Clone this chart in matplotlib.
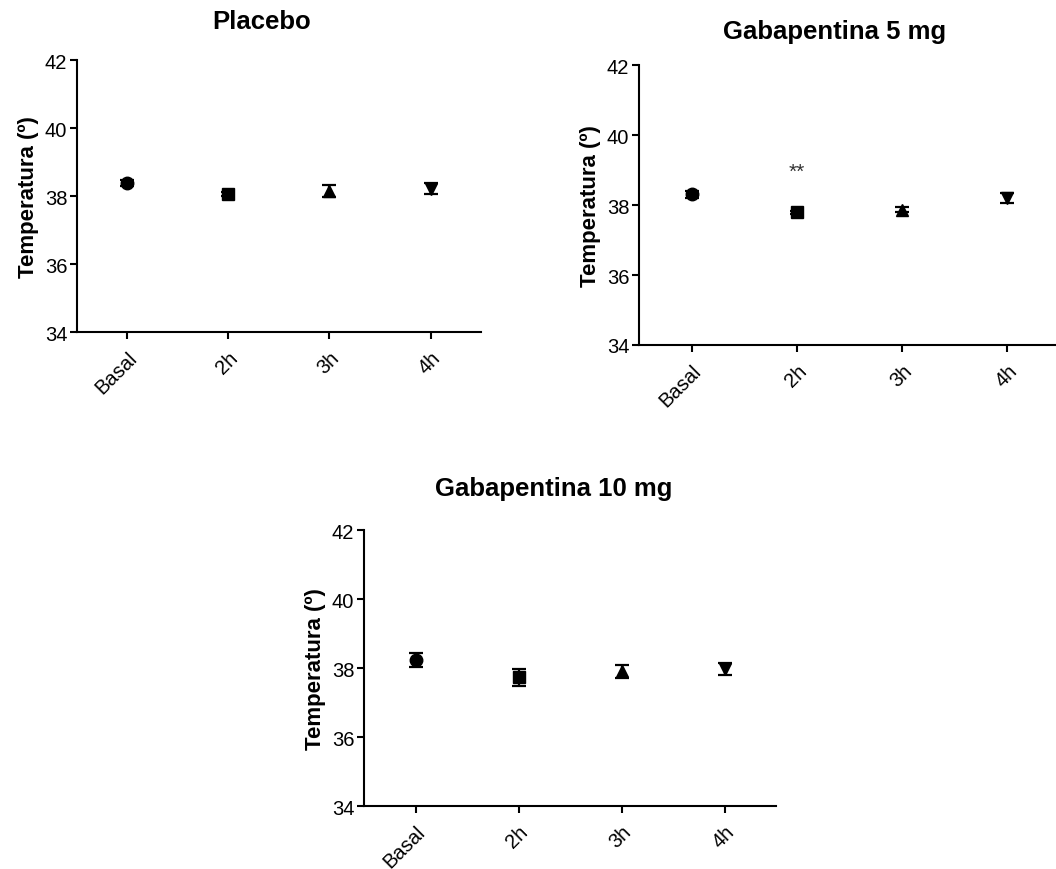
import matplotlib.pyplot as plt

plt.rcParams['font.family'] = ['Liberation Sans', 'DejaVu Sans']

categories = ['Basal', '2h', '3h', '4h']
markers = ['o', 's', '^', 'v']

titles = ['Placebo', 'Gabapentina 5 mg', 'Gabapentina 10 mg']

placebo_mean = [38.38, 38.06, 38.15, 38.22]
placebo_sem = [0.08, 0.05, 0.18, 0.15]

gaba5_mean = [38.31, 37.79, 37.87, 38.19]
gaba5_sem = [0.10, 0.05, 0.07, 0.14]

gaba10_mean = [38.24, 37.73, 37.90, 37.97]
gaba10_sem = [0.21, 0.24, 0.20, 0.18]

sig_label = '**'
sig_pos = (1, 38.95)   # over 2h in the 5 mg panel

yticks = [34, 36, 38, 40, 42]


def panel(fig, rect, means, sems, title, title_xy):
    ax = fig.add_axes(rect)
    for i in range(len(categories)):
        ax.errorbar(i, means[i], yerr=sems[i], fmt=markers[i], color='black',
                    markersize=9, elinewidth=1.6, capsize=5, capthick=1.6)
    ax.set_xlim(-0.5, 3.5)
    ax.set_ylim(34, 42)
    ax.set_yticks(yticks)
    ax.set_xticks(range(len(categories)))
    ax.set_xticklabels(categories, rotation=45, ha='right', rotation_mode='anchor')
    ax.tick_params(direction='out', length=5, width=1.5, labelsize=14.5, colors='black')
    ax.tick_params(axis='y', pad=2)
    ax.tick_params(axis='x', pad=6)
    for s in ['top', 'right']:
        ax.spines[s].set_visible(False)
    for s in ['left', 'bottom']:
        ax.spines[s].set_linewidth(1.5)
    ax.set_ylabel('Temperatura (º)', fontsize=16, fontweight='bold', labelpad=4)
    fig.text(title_xy[0], title_xy[1], title, ha='center', va='center',
             fontsize=18.5, fontweight='bold')
    return ax


fig = plt.figure(figsize=(10.56, 8.70), dpi=100)

panel(fig, [0.0729, 0.6172, 0.3826, 0.3126], placebo_mean, placebo_sem,
      titles[0], (262 / 1056, 1 - 22 / 870))
ax2 = panel(fig, [0.6051, 0.6023, 0.3987, 0.3218], gaba5_mean, gaba5_sem,
            titles[1], (835 / 1056, 1 - 32 / 870))
ax2.text(sig_pos[0], sig_pos[1], sig_label, ha='center', va='center',
         fontsize=15, color='#333333')
panel(fig, [0.3447, 0.0724, 0.3902, 0.3172], gaba10_mean, gaba10_sem,
      titles[2], (554 / 1056, 1 - 489 / 870))

plt.savefig('out.png', dpi=100)
